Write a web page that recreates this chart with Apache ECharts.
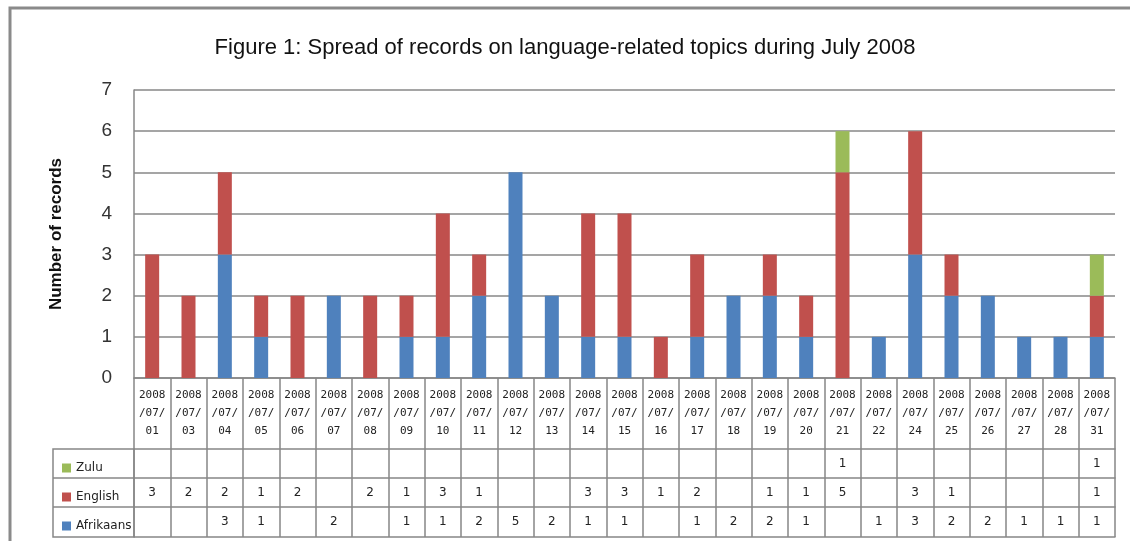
<!DOCTYPE html>
<html>
<head>
<meta charset="utf-8">
<script src="https://cdn.jsdelivr.net/npm/echarts@6/dist/echarts.min.js"></script>
<style>
html,body{margin:0;padding:0;background:#fff;}
#chart{width:1130px;height:541px;}
</style>
</head>
<body>
<div id="chart"></div>
<script>
const categories = ['2008/07/01','2008/07/03','2008/07/04','2008/07/05','2008/07/06','2008/07/07','2008/07/08','2008/07/09','2008/07/10','2008/07/11','2008/07/12','2008/07/13','2008/07/14','2008/07/15','2008/07/16','2008/07/17','2008/07/18','2008/07/19','2008/07/20','2008/07/21','2008/07/22','2008/07/24','2008/07/25','2008/07/26','2008/07/27','2008/07/28','2008/07/31'];
const afrikaans = [0,0,3,1,0,2,0,1,1,2,5,2,1,1,0,1,2,2,1,0,1,3,2,2,1,1,1];
const english   = [3,2,2,1,2,0,2,1,3,1,0,0,3,3,1,2,0,1,1,5,0,3,1,0,0,0,1];
const zulu      = [0,0,0,0,0,0,0,0,0,0,0,0,0,0,0,0,0,0,0,1,0,0,0,0,0,0,1];
const yTicks = [0,1,2,3,4,5,6,7];

const gridColor = '#878787';
const chart = echarts.init(document.getElementById('chart'), null, {renderer:'canvas'});

function rowAxis(offset, values, tickLen) {
  return {
    type:'category', data:categories, position:'bottom', offset:offset, gridIndex:0,
    boundaryGap:true,
    axisLine:{show:true, lineStyle:{color:gridColor, width:1.5}},
    axisTick:{show:tickLen>0, interval:0, length:tickLen, lineStyle:{color:gridColor, width:1.5}},
    axisLabel:{show:!!values, interval:0, margin:9, fontSize:12, fontFamily:'DejaVu Sans', color:'#222',
      formatter:function(v, i){ if(!values) return ''; const n = values[i]; return n ? String(n) : ''; }},
    splitLine:{show:false}
  };
}

const option = {
  backgroundColor:'#fff',
  animation:false,
  title:{
    text:'Figure 1: Spread of records on language-related topics during July 2008',
    left:'center', top:32,
    textStyle:{fontFamily:'Liberation Sans', fontSize:22, fontWeight:'normal', color:'#111'}
  },
  legend:{
    data:['Zulu','English','Afrikaans'],
    orient:'vertical', left:57, top:456,
    itemWidth:9, itemHeight:9, itemGap:15, icon:'rect',
    textStyle:{fontFamily:'DejaVu Sans', fontSize:12, color:'#222', lineHeight:14},
    selectedMode:false
  },
  graphic:[
    {type:'rect', shape:{x:10, y:8, width:1200, height:600}, style:{fill:'none', stroke:'#8a8a8a', lineWidth:3}, silent:true},
    {type:'rect', shape:{x:53, y:449, width:81, height:88}, style:{fill:'none', stroke:gridColor, lineWidth:1.5}, silent:true},
    {type:'line', shape:{x1:53, y1:478, x2:134, y2:478}, style:{stroke:gridColor, lineWidth:1.5}, silent:true},
    {type:'line', shape:{x1:53, y1:507, x2:134, y2:507}, style:{stroke:gridColor, lineWidth:1.5}, silent:true}
  ],
  grid:{left:134, right:15, top:90, bottom:163, containLabel:false},
  xAxis:[
    {
      type:'category', data:categories, boundaryGap:true,
      axisLine:{show:true, lineStyle:{color:gridColor, width:1.5}},
      axisTick:{show:true, interval:0, length:71, lineStyle:{color:gridColor, width:1.5}},
      axisLabel:{interval:0, margin:8, fontSize:11, fontFamily:'DejaVu Sans Mono', color:'#222', lineHeight:18,
        formatter:function(v){ const p = v.split('/'); return p[0] + '\n/' + p[1] + '/\n' + p[2]; }}
    },
    rowAxis(71, zulu, 29),
    rowAxis(100, english, 29),
    rowAxis(129, afrikaans, 30),
    rowAxis(159, null, 0)
  ],
  yAxis:{
    type:'value', min:yTicks[0], max:yTicks[yTicks.length-1], interval:1,
    name:'Number of records', nameLocation:'middle', nameGap:69, nameRotate:90,
    nameTextStyle:{fontFamily:'Liberation Sans', fontWeight:'bold', fontSize:17, color:'#111'},
    axisLine:{show:true, lineStyle:{color:gridColor, width:1.5}},
    axisTick:{show:false},
    axisLabel:{margin:22, fontSize:19, fontFamily:'Liberation Sans', color:'#333'},
    splitLine:{show:true, lineStyle:{color:gridColor, width:1.5}}
  },
  series:[
    {name:'Afrikaans', type:'bar', stack:'total', data:afrikaans, barWidth:14, itemStyle:{color:'#4F81BD'}},
    {name:'English', type:'bar', stack:'total', data:english, barWidth:14, itemStyle:{color:'#C0504D'}},
    {name:'Zulu', type:'bar', stack:'total', data:zulu, barWidth:14, itemStyle:{color:'#9BBB59'}}
  ]
};
chart.setOption(option);
</script>
</body>
</html>
